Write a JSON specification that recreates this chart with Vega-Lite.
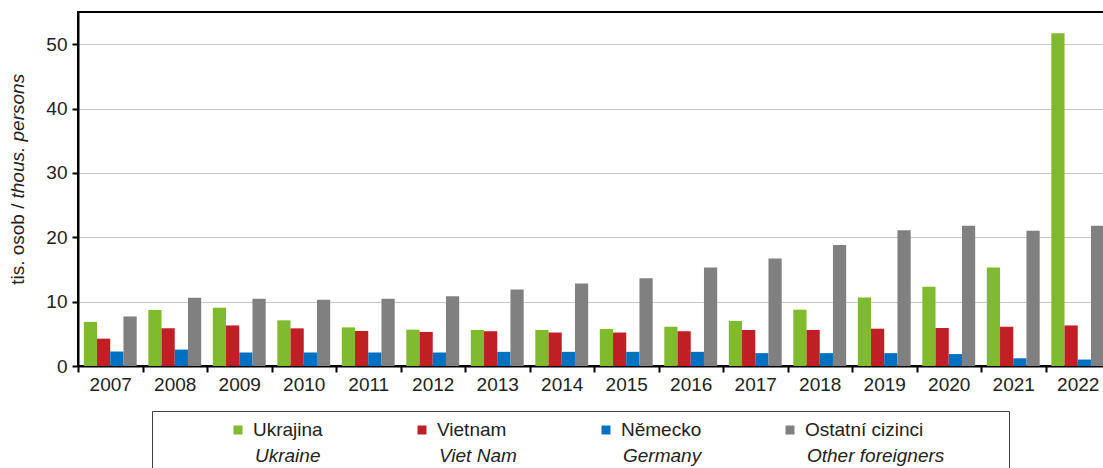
{
  "$schema": "https://vega.github.io/schema/vega-lite/v6.json",
  "background": "white",
  "padding": {"left": 7, "top": 11, "right": 0, "bottom": 0},
  "config": {"font": "Liberation Sans", "view": {"stroke": null}},
  "datasets": {
    "bars": [
      {"year": "2007", "series": "Ukrajina", "value": 6.85}, {"year": "2007", "series": "Vietnam", "value": 4.25}, {"year": "2007", "series": "Německo", "value": 2.25}, {"year": "2007", "series": "Ostatní cizinci", "value": 7.7},
      {"year": "2008", "series": "Ukrajina", "value": 8.7}, {"year": "2008", "series": "Vietnam", "value": 5.85}, {"year": "2008", "series": "Německo", "value": 2.55}, {"year": "2008", "series": "Ostatní cizinci", "value": 10.6},
      {"year": "2009", "series": "Ukrajina", "value": 9.05}, {"year": "2009", "series": "Vietnam", "value": 6.3}, {"year": "2009", "series": "Německo", "value": 2.1}, {"year": "2009", "series": "Ostatní cizinci", "value": 10.45},
      {"year": "2010", "series": "Ukrajina", "value": 7.1}, {"year": "2010", "series": "Vietnam", "value": 5.85}, {"year": "2010", "series": "Německo", "value": 2.1}, {"year": "2010", "series": "Ostatní cizinci", "value": 10.3},
      {"year": "2011", "series": "Ukrajina", "value": 6.0}, {"year": "2011", "series": "Vietnam", "value": 5.45}, {"year": "2011", "series": "Německo", "value": 2.1}, {"year": "2011", "series": "Ostatní cizinci", "value": 10.45},
      {"year": "2012", "series": "Ukrajina", "value": 5.65}, {"year": "2012", "series": "Vietnam", "value": 5.3}, {"year": "2012", "series": "Německo", "value": 2.1}, {"year": "2012", "series": "Ostatní cizinci", "value": 10.85},
      {"year": "2013", "series": "Ukrajina", "value": 5.6}, {"year": "2013", "series": "Vietnam", "value": 5.4}, {"year": "2013", "series": "Německo", "value": 2.2}, {"year": "2013", "series": "Ostatní cizinci", "value": 11.9},
      {"year": "2014", "series": "Ukrajina", "value": 5.6}, {"year": "2014", "series": "Vietnam", "value": 5.2}, {"year": "2014", "series": "Německo", "value": 2.2}, {"year": "2014", "series": "Ostatní cizinci", "value": 12.8},
      {"year": "2015", "series": "Ukrajina", "value": 5.75}, {"year": "2015", "series": "Vietnam", "value": 5.2}, {"year": "2015", "series": "Německo", "value": 2.2}, {"year": "2015", "series": "Ostatní cizinci", "value": 13.65},
      {"year": "2016", "series": "Ukrajina", "value": 6.1}, {"year": "2016", "series": "Vietnam", "value": 5.4}, {"year": "2016", "series": "Německo", "value": 2.2}, {"year": "2016", "series": "Ostatní cizinci", "value": 15.3},
      {"year": "2017", "series": "Ukrajina", "value": 7.0}, {"year": "2017", "series": "Vietnam", "value": 5.6}, {"year": "2017", "series": "Německo", "value": 2.0}, {"year": "2017", "series": "Ostatní cizinci", "value": 16.7},
      {"year": "2018", "series": "Ukrajina", "value": 8.75}, {"year": "2018", "series": "Vietnam", "value": 5.6}, {"year": "2018", "series": "Německo", "value": 2.0}, {"year": "2018", "series": "Ostatní cizinci", "value": 18.8},
      {"year": "2019", "series": "Ukrajina", "value": 10.65}, {"year": "2019", "series": "Vietnam", "value": 5.8}, {"year": "2019", "series": "Německo", "value": 2.0}, {"year": "2019", "series": "Ostatní cizinci", "value": 21.1},
      {"year": "2020", "series": "Ukrajina", "value": 12.3}, {"year": "2020", "series": "Vietnam", "value": 5.9}, {"year": "2020", "series": "Německo", "value": 1.85}, {"year": "2020", "series": "Ostatní cizinci", "value": 21.8},
      {"year": "2021", "series": "Ukrajina", "value": 15.3}, {"year": "2021", "series": "Vietnam", "value": 6.1}, {"year": "2021", "series": "Německo", "value": 1.2}, {"year": "2021", "series": "Ostatní cizinci", "value": 21.0},
      {"year": "2022", "series": "Ukrajina", "value": 51.7}, {"year": "2022", "series": "Vietnam", "value": 6.3}, {"year": "2022", "series": "Německo", "value": 1.0}, {"year": "2022", "series": "Ostatní cizinci", "value": 21.8}
    ],
    "legend": [
      {"series": "Ukrajina", "line": "cs", "label": "Ukrajina"},
      {"series": "Vietnam", "line": "cs", "label": "Vietnam"},
      {"series": "Německo", "line": "cs", "label": "Německo"},
      {"series": "Ostatní cizinci", "line": "cs", "label": "Ostatní cizinci"},
      {"series": "Ukrajina", "line": "en", "label": "Ukraine"},
      {"series": "Vietnam", "line": "en", "label": "Viet Nam"},
      {"series": "Německo", "line": "en", "label": "Germany"},
      {"series": "Ostatní cizinci", "line": "en", "label": "Other foreigners"}
    ]
  },
  "spacing": 15,
  "resolve": {"scale": {"x": "independent", "y": "independent", "color": "shared"}},
  "vconcat": [
    {
      "width": 1032,
      "height": 354,
      "view": {"stroke": "#000000", "strokeWidth": 2},
      "data": {"name": "bars"},
      "layer": [
        {
          "mark": {"type": "bar"},
          "encoding": {
            "x": {
              "field": "year", "type": "ordinal",
              "scale": {"paddingInner": 0, "paddingOuter": 0},
              "axis": {"title": null, "labelAngle": 0, "labelFontSize": 19, "labelColor": "#222222", "labelPadding": 3, "tickBand": "extent", "tickSize": 6, "tickWidth": 2, "tickColor": "#000000", "domainColor": "#000000", "domainWidth": 2, "grid": false}
            },
            "xOffset": {
              "field": "series", "type": "nominal",
              "sort": ["Ukrajina", "Vietnam", "Německo", "Ostatní cizinci"],
              "scale": {"paddingInner": 0, "paddingOuter": 0.44}
            },
            "y": {
              "field": "value", "type": "quantitative",
              "scale": {"domain": [0, 55], "nice": false},
              "axis": {"values": [0, 10, 20, 30, 40, 50], "tickSize": 6, "tickWidth": 2, "tickColor": "#000000", "domainColor": "#000000", "domainWidth": 2, "grid": true, "gridColor": "#c8c8c8", "gridWidth": 1, "labelFontSize": 19, "labelPadding": 5, "labelColor": "#222222", "title": "tis. osob /", "titleFontSize": 19, "titleFontWeight": "normal", "titleColor": "#222222", "titleX": -61, "titleY": 191, "titleAlign": "right", "titleAngle": -90, "titleBaseline": "middle"}
            },
            "color": {
              "field": "series", "type": "nominal",
              "scale": {"domain": ["Ukrajina", "Vietnam", "Německo", "Ostatní cizinci"], "range": ["#80ba2f", "#c01f26", "#0070c0", "#808080"]},
              "legend": null
            }
          }
        },
        {
          "transform": [{"filter": "false"}],
          "mark": {"type": "rule"},
          "encoding": {
            "y": {
              "field": "value", "type": "quantitative",
              "scale": {"domain": [0, 55], "nice": false},
              "axis": {"orient": "left", "labels": false, "ticks": false, "domain": false, "grid": false, "title": "thous. persons", "titleFontSize": 19, "titleFontWeight": "normal", "titleFontStyle": "italic", "titleColor": "#222222", "titleX": -61, "titleY": 186, "titleAlign": "left", "titleAngle": -90, "titleBaseline": "middle"}
            }
          }
        }
      ],
      "resolve": {"axis": {"y": "independent"}}
    },
    {
      "spacing": 0,
      "resolve": {"scale": {"x": "independent", "y": "independent", "color": "shared"}},
      "hconcat": [
        {
          "width": 73,
          "height": 10,
          "view": {"stroke": null},
          "data": {"values": []},
          "mark": {"type": "point"},
          "encoding": {}
        },
        {
          "width": 857,
          "height": 70,
          "view": {"stroke": "#404040", "strokeWidth": 1},
          "data": {"name": "legend"},
          "encoding": {
            "x": {"field": "series", "type": "nominal", "scale": {"type": "point", "padding": 0, "domain": ["Ukrajina", "Vietnam", "Německo", "Ostatní cizinci"], "range": [86, 638]}, "axis": null},
            "y": {"field": "line", "type": "nominal", "scale": {"type": "point", "padding": 0, "domain": ["cs", "en"], "range": [19, 45]}, "axis": null}
          },
          "layer": [
            {
              "transform": [{"filter": "datum.line == 'cs'"}],
              "mark": {"type": "square", "size": 81, "opacity": 1},
              "encoding": {"color": {"field": "series", "type": "nominal", "legend": null}}
            },
            {
              "transform": [{"filter": "datum.line == 'cs'"}],
              "mark": {"type": "text", "align": "left", "baseline": "middle", "dx": 15, "fontSize": 19, "color": "#222222"},
              "encoding": {"text": {"field": "label"}}
            },
            {
              "transform": [{"filter": "datum.line == 'en'"}],
              "mark": {"type": "text", "align": "left", "baseline": "middle", "dx": 17, "fontSize": 19, "fontStyle": "italic", "color": "#222222"},
              "encoding": {"text": {"field": "label"}}
            }
          ]
        }
      ]
    }
  ]
}
